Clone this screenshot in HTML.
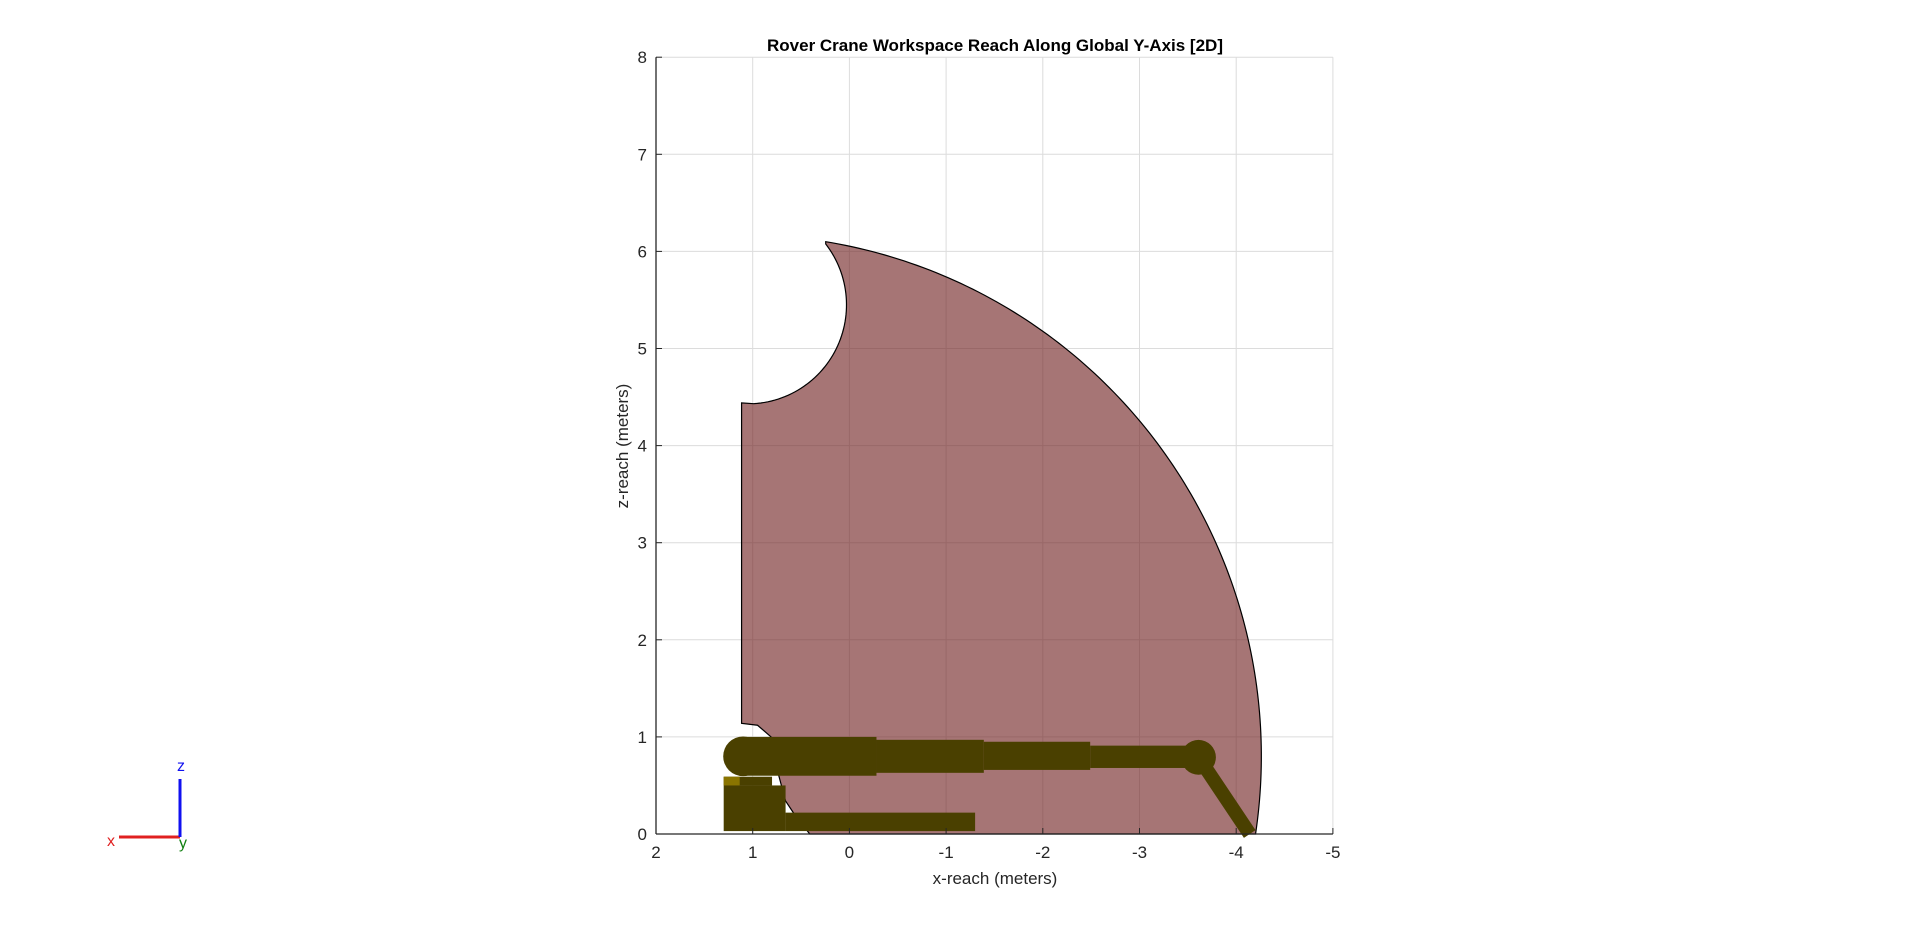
<!DOCTYPE html>
<html><head><meta charset="utf-8"><style>
html,body{margin:0;padding:0;background:#fff;}
svg{display:block;font-family:"Liberation Sans",Arial,sans-serif;}
</style></head><body>
<svg id="chart" width="1920" height="926" viewBox="0 0 1920 926">
<rect x="0" y="0" width="1920" height="926" fill="#fff"/>
<text x="995" y="51" text-anchor="middle" font-size="17" font-weight="bold" fill="#000">Rover Crane Workspace Reach Along Global Y-Axis [2D]</text>
<g id="plot"></g>
<text x="995" y="884" text-anchor="middle" font-size="17" fill="#262626">x-reach (meters)</text>
<text transform="translate(628,446) rotate(-90)" text-anchor="middle" font-size="17" fill="#262626">z-reach (meters)</text>
<g>
<line x1="119" y1="837" x2="180" y2="837" stroke="#e02020" stroke-width="3"/>
<line x1="180" y1="779" x2="180" y2="837" stroke="#1010f0" stroke-width="3"/>
<text x="107" y="846" font-size="16" fill="#e02020">x</text>
<text x="177" y="771" font-size="16" fill="#1010f0">z</text>
<text x="179" y="848" font-size="16" fill="#128012">y</text>
</g>
</svg>
<script>
const xTicks = [2, 1, 0, -1, -2, -3, -4, -5];
const yTicks = [0, 1, 2, 3, 4, 5, 6, 7, 8];
const xTickLabels = ["2", "1", "0", "-1", "-2", "-3", "-4", "-5"];
const yTickLabels = ["0", "1", "2", "3", "4", "5", "6", "7", "8"];
// workspace boundary parameters (meters)
const innerEdgeX = [1.115];
const innerEdgeZ = [1.14, 4.44];
const notchCenter = [1.05, 5.45];
const notchRadius = [1.02];
const outerCenter = [1.11, 0.8];
const outerRadius = [5.37];
const lowerNotchX = [1.115, 0.95, 0.81, 0.76, 0.73, 0.66, 0.58, 0.41];
const lowerNotchZ = [1.14, 1.12, 1.0, 0.8, 0.6, 0.34, 0.22, 0.0];
// crane boom segments
const segX0 = [1.10, -0.28, -1.39, -2.49];
const segX1 = [-0.28, -1.39, -2.49, -3.61];
const segZ0 = [0.60, 0.63, 0.66, 0.68];
const segZ1 = [1.00, 0.97, 0.95, 0.91];
const jointX = [1.10, -3.61];
const jointZ = [0.80, 0.79];
const jointR = [0.205, 0.18];
const legX = [-3.61, -4.14];
const legZ = [0.79, 0.0];
const baseX = [1.30, 0.66, 0.66, -1.30];
const baseZ = [0.03, 0.50, 0.03, 0.22];

const X0 = 656, XS = 96.7, Y0 = 834, YS = 97.1;
function sx(v){ return X0 + (2 - v) * XS; }
function sy(v){ return Y0 - v * YS; }
const NS = "http://www.w3.org/2000/svg";
const plot = document.getElementById('plot');
function mk(tag, attrs, parent){ const e = document.createElementNS(NS, tag); for (const k in attrs) e.setAttribute(k, attrs[k]); (parent||plot).appendChild(e); return e; }

const L = sx(2), R = sx(-5), T = sy(8), B = sy(0);
mk('rect', {x:L, y:T, width:R-L, height:B-T, fill:'#fff'});

xTicks.forEach(function(t){ const g = mk('line', {x1:sx(t), x2:sx(t), y1:T, y2:B, stroke:'#dcdcdc', 'stroke-width':1});

 });
yTicks.forEach(function(t){ const g = mk('line', {x1:L, x2:R, y1:sy(t), y2:sy(t), stroke:'#dcdcdc', 'stroke-width':1});

 });

let d = 'M' + sx(innerEdgeX[0]) + ' ' + sy(innerEdgeZ[0]) + ' L' + sx(innerEdgeX[0]) + ' ' + sy(innerEdgeZ[1]);
const a1s = Math.acos((0.245 - notchCenter[0]) / notchRadius[0]);
const startA = -Math.PI/2 - 0.06, endA = a1s;
for (let i=0;i<=60;i++){ const a = (2*Math.PI + startA) - i/60*((2*Math.PI + startA) - endA);
  d += ' L' + sx(notchCenter[0] + notchRadius[0]*Math.cos(a)) + ' ' + sy(notchCenter[1] + notchRadius[0]*Math.sin(a)); }
const oa0 = Math.atan2(6.10 - outerCenter[1], 0.245 - outerCenter[0]);
const zEnd = Math.asin(-outerCenter[1]/outerRadius[0]);
const oa1 = Math.PI - zEnd;
for (let i=0;i<=120;i++){ const a = oa0 + i/120*(oa1 - oa0);
  d += ' L' + sx(outerCenter[0] + outerRadius[0]*Math.cos(a)) + ' ' + sy(Math.max(0, outerCenter[1] + outerRadius[0]*Math.sin(a))); }
for (let i=lowerNotchX.length-1;i>=0;i--){ d += ' L' + sx(lowerNotchX[i]) + ' ' + sy(lowerNotchZ[i]); }
d += ' Z';
const ws = mk('path', {d:d, fill:'rgb(112,32,32)', 'fill-opacity':0.62, stroke:'#000', 'stroke-width':1.2});



const C = '#4a4000';
for (let i=0;i<segX0.length;i++){
  const r = mk('rect', {x:sx(segX0[i]), y:sy(segZ1[i]), width:sx(segX1[i])-sx(segX0[i]), height:sy(segZ0[i])-sy(segZ1[i]), fill:C});
  
  
}
const leg = mk('line', {x1:sx(legX[0]), y1:sy(legZ[0]), x2:sx(legX[1]), y2:sy(legZ[1]), stroke:C, 'stroke-width':14});


for (let i=0;i<jointX.length;i++){
  const c = mk('circle', {cx:sx(jointX[i]), cy:sy(jointZ[i]), r:jointR[i]*XS, fill:C});
  
  
}
const b1 = mk('rect', {x:sx(baseX[0]), y:sy(baseZ[1]), width:sx(baseX[1])-sx(baseX[0]), height:sy(baseZ[0])-sy(baseZ[1]), fill:C});


const b2 = mk('rect', {x:sx(baseX[2]), y:sy(baseZ[3]), width:sx(baseX[3])-sx(baseX[2]), height:sy(baseZ[2])-sy(baseZ[3]), fill:C});


const gw = mk('rect', {x:sx(1.30), y:sy(0.59), width:sx(0.80)-sx(1.30), height:sy(0.50)-sy(0.59), fill:C});


const gold = mk('rect', {x:sx(1.30), y:sy(0.59), width:16, height:sy(0.50)-sy(0.59), fill:'#8a7400'});



mk('line', {x1:L, y1:T, x2:L, y2:B, stroke:'#262626', 'stroke-width':1.3});
mk('line', {x1:L, y1:B, x2:R, y2:B, stroke:'#262626', 'stroke-width':1.3});
xTicks.forEach(function(t, i){
  mk('line', {x1:sx(t), x2:sx(t), y1:B, y2:B-6, stroke:'#262626'});
  const tx = mk('text', {x:sx(t), y:B+24, 'text-anchor':'middle', 'font-size':17, fill:'#262626'});
  tx.textContent = xTickLabels[i];
  
  
});
yTicks.forEach(function(t, i){
  mk('line', {x1:L, x2:L+6, y1:sy(t), y2:sy(t), stroke:'#262626'});
  const tx = mk('text', {x:L-9, y:sy(t)+6, 'text-anchor':'end', 'font-size':17, fill:'#262626'});
  tx.textContent = yTickLabels[i];
  
  
});
</script>
</body></html>
